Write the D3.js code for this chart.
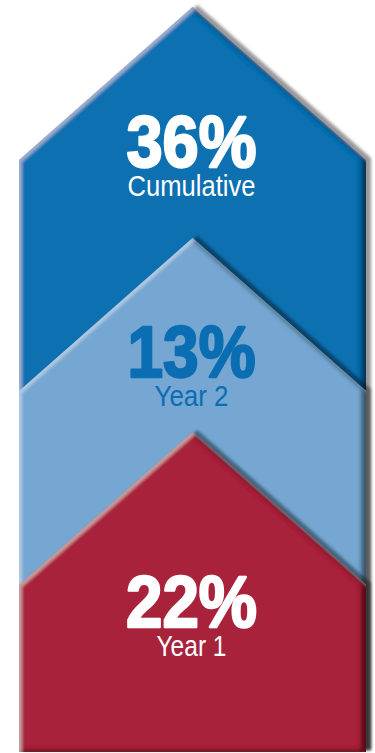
<!DOCTYPE html>
<html>
<head>
<meta charset="utf-8">
<script src="https://cdn.jsdelivr.net/npm/d3@7"></script>
<style>
  html, body { margin: 0; padding: 0; background: #fff; }
  svg { display: block; }
</style>
</head>
<body>
<svg id="chart" width="375" height="753"></svg>
<script>
// Tiers drawn back to front: the cumulative arrow sits behind the two yearly ones.
const categories = ["Cumulative", "Year 2", "Year 1"];
const values = [36, 13, 22];
const valueLabels = values.map(v => v + "%");

// Styling per tier
const fillColors = ["#0a6fb1", "#74a7d2", "#a8213b"];
const textColors = ["#ffffff", "#0b6db2", "#ffffff"];

const W = 375, H = 753;
const svg = d3.select("#chart");

// Horizontal extent of every arrow
const x = d3.scaleLinear().domain([0, 1]).range([19, 366]);
// Apex height and label baseline for each tier
const apexY = d3.scaleOrdinal().domain(categories).range([7, 238, 432]);
const labelY = d3.scaleOrdinal().domain(categories).range([168, 378, 628]);
const shoulderDrop = 153;   // vertical run of the roof slopes
const bottomY = 752;

// Bevel + drop shadow filter
const defs = svg.append("defs");
const f = defs.append("filter").attr("id", "bevel")
  .attr("x", "-10%").attr("y", "-10%").attr("width", "120%").attr("height", "120%");
f.append("feGaussianBlur").attr("in", "SourceAlpha").attr("stdDeviation", 1.8).attr("result", "b");
f.append("feOffset").attr("in", "b").attr("dx", 4.5).attr("dy", -2.5).attr("result", "ds");
f.append("feFlood").attr("flood-color", "#000").attr("flood-opacity", 0.4).attr("result", "dsc");
f.append("feComposite").attr("in", "dsc").attr("in2", "ds").attr("operator", "in").attr("result", "dropShadow");

f.append("feOffset").attr("in", "SourceAlpha").attr("dx", -5).attr("dy", -2).attr("result", "sh");
f.append("feGaussianBlur").attr("in", "sh").attr("stdDeviation", 2.2).attr("result", "shb");
f.append("feComposite").attr("in", "SourceAlpha").attr("in2", "shb").attr("operator", "out").attr("result", "shEdge");
f.append("feFlood").attr("flood-color", "#000").attr("flood-opacity", 0.75).attr("result", "shc");
f.append("feComposite").attr("in", "shc").attr("in2", "shEdge").attr("operator", "in").attr("result", "innerDark");

f.append("feOffset").attr("in", "SourceAlpha").attr("dx", 3).attr("dy", 2).attr("result", "hl");
f.append("feGaussianBlur").attr("in", "hl").attr("stdDeviation", 1.6).attr("result", "hlb");
f.append("feComposite").attr("in", "SourceAlpha").attr("in2", "hlb").attr("operator", "out").attr("result", "hlEdge");
f.append("feFlood").attr("flood-color", "#fff").attr("flood-opacity", 0.32).attr("result", "hlc");
f.append("feComposite").attr("in", "hlc").attr("in2", "hlEdge").attr("operator", "in").attr("result", "innerLight");

const merge = f.append("feMerge");
["dropShadow", "SourceGraphic", "innerDark", "innerLight"].forEach(r => merge.append("feMergeNode").attr("in", r));

// Arrow outline: pointed roof with vertical sides running to the bottom
function arrowPath(cat) {
  const top = apexY(cat);
  const sh = top + shoulderDrop;
  return d3.line()([
    [x(0), sh], [x(0.5), top], [x(1), sh], [x(1), bottomY], [x(0), bottomY]
  ]) + "Z";
}

const tiers = categories.map((c, i) => ({ cat: c, value: values[i], label: valueLabels[i], i }));

svg.append("g").selectAll("path")
  .data(tiers)
  .join("path")
  .attr("d", d => arrowPath(d.cat))
  .attr("fill", d => fillColors[d.i])
  .attr("filter", "url(#bevel)");

// Value labels
const valueWidths = [130, 128, 131];
const subWidths = [128, 74, 70];
const font = "'Liberation Sans', Arial, Helvetica, sans-serif";

const lg = svg.append("g");
lg.selectAll("text.value")
  .data(tiers)
  .join("text")
  .attr("class", "value")
  .attr("x", x(0.5) - 1)
  .attr("y", d => labelY(d.cat) - 1)
  .attr("text-anchor", "middle")
  .attr("font-family", font)
  .attr("font-weight", "bold")
  .attr("font-size", 72)
  .attr("textLength", d => valueWidths[d.i])
  .attr("lengthAdjust", "spacingAndGlyphs")
  .attr("fill", d => textColors[d.i])
  .attr("stroke", d => textColors[d.i])
  .attr("stroke-width", 2.4)
  .attr("stroke-linejoin", "round")
  .text(d => d.label);

lg.selectAll("text.cat")
  .data(tiers)
  .join("text")
  .attr("class", "cat")
  .attr("x", x(0.5) - 1)
  .attr("y", d => labelY(d.cat) + 28)
  .attr("text-anchor", "middle")
  .attr("font-family", font)
  .attr("font-size", 30)
  .attr("textLength", d => subWidths[d.i])
  .attr("lengthAdjust", "spacingAndGlyphs")
  .attr("fill", d => textColors[d.i])
  .text(d => d.cat);
</script>
</body>
</html>
